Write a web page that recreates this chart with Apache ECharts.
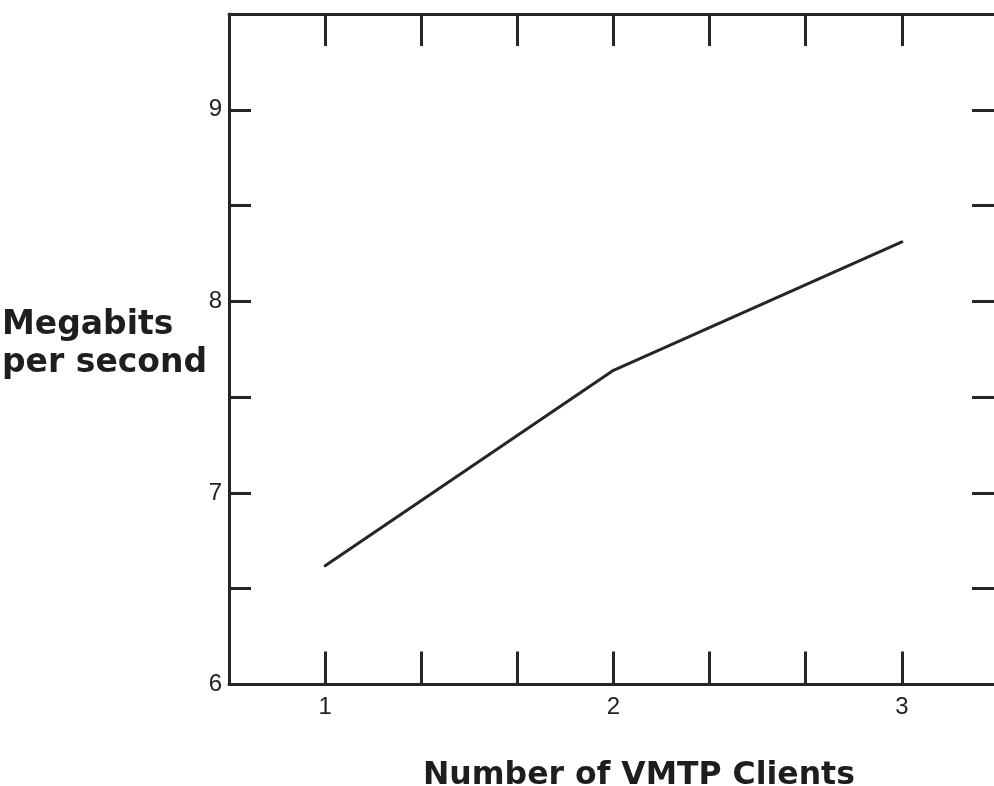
<!DOCTYPE html>
<html>
<head>
<meta charset="utf-8">
<script src="https://cdn.jsdelivr.net/npm/echarts@6/dist/echarts.min.js"></script>
<style>
  html, body { margin: 0; padding: 0; background: #fff; overflow: hidden; }
  #chart { width: 1000px; height: 786px; }
</style>
</head>
<body>
<div id="chart"></div>
<script>
// Throughput vs. number of clients
const clients = [1, 2, 3];
const megabits = [6.62, 7.64, 8.31];

// Tick marks and labelled values
const xTickValues = [1, 4 / 3, 5 / 3, 2, 7 / 3, 8 / 3, 3];
const xLabelValues = [1, 2, 3];
const yTickValues = [6.5, 7, 7.5, 8, 8.5, 9];
const yLabelValues = [6, 7, 8, 9];

const xTitle = 'Number of VMTP Clients';
const yTitle = 'Megabits\nper second';

const ink = '#262626';
const X_MIN = 2 / 3, X_MAX = 10 / 3;
const Y_MIN = 6, Y_MAX = 9.5;

function frameAxis(extra) {
  return Object.assign({
    type: 'value',
    splitLine: { show: false },
    axisLine: { show: true, onZero: false, lineStyle: { color: ink, width: 3 } },
    axisTick: { show: true, inside: true, lineStyle: { color: ink, width: 3 } },
    axisLabel: { show: false }
  }, extra);
}

const chart = echarts.init(document.getElementById('chart'), null, { renderer: 'canvas' });

chart.setOption({
  backgroundColor: '#ffffff',
  animation: false,
  // the frame's right edge sits just past the visible window
  grid: { left: 229, top: 14, right: 2, bottom: 101.5, containLabel: false },
  xAxis: [
    frameAxis({
      position: 'bottom', min: X_MIN, max: X_MAX,
      axisTick: { show: true, inside: true, length: 33, customValues: xTickValues,
                  lineStyle: { color: ink, width: 3 } },
      axisLabel: { show: true, customValues: xLabelValues, margin: 11,
                   color: '#222', fontFamily: 'Liberation Sans, Arial, sans-serif', fontSize: 24,
                   formatter: v => String(Math.round(v)) }
    }),
    frameAxis({
      position: 'top', min: X_MIN, max: X_MAX,
      axisTick: { show: true, inside: true, length: 32, customValues: xTickValues,
                  lineStyle: { color: ink, width: 3 } }
    })
  ],
  yAxis: [
    frameAxis({
      position: 'left', min: Y_MIN, max: Y_MAX,
      axisTick: { show: true, inside: true, length: 22, customValues: yTickValues,
                  lineStyle: { color: ink, width: 3 } },
      axisLabel: { show: true, customValues: yLabelValues, margin: 7,
                   color: '#222', fontFamily: 'Liberation Sans, Arial, sans-serif', fontSize: 24,
                   formatter: v => String(Math.round(v)) }
    }),
    frameAxis({
      position: 'right', min: Y_MIN, max: Y_MAX,
      axisTick: { show: true, inside: true, length: 26, customValues: yTickValues,
                  lineStyle: { color: ink, width: 3 } }
    })
  ],
  series: [{
    type: 'line',
    xAxisIndex: 0,
    yAxisIndex: 0,
    data: clients.map((c, i) => [c, megabits[i]]),
    showSymbol: false,
    symbol: 'none',
    lineStyle: { color: ink, width: 3, cap: 'round', join: 'round' }
  }],
  graphic: [
    {
      type: 'text', left: 2, top: 306, z: 10,
      style: {
        text: yTitle, fill: '#1e1e1e',
        font: 'bold 33px "DejaVu Sans", sans-serif',
        lineHeight: 38, align: 'left'
      }
    },
    {
      type: 'text', left: 423, top: 760, z: 10,
      style: {
        text: xTitle, fill: '#1e1e1e',
        font: 'bold 31.5px "DejaVu Sans", sans-serif',
        align: 'left'
      }
    }
  ]
});
</script>
</body>
</html>
